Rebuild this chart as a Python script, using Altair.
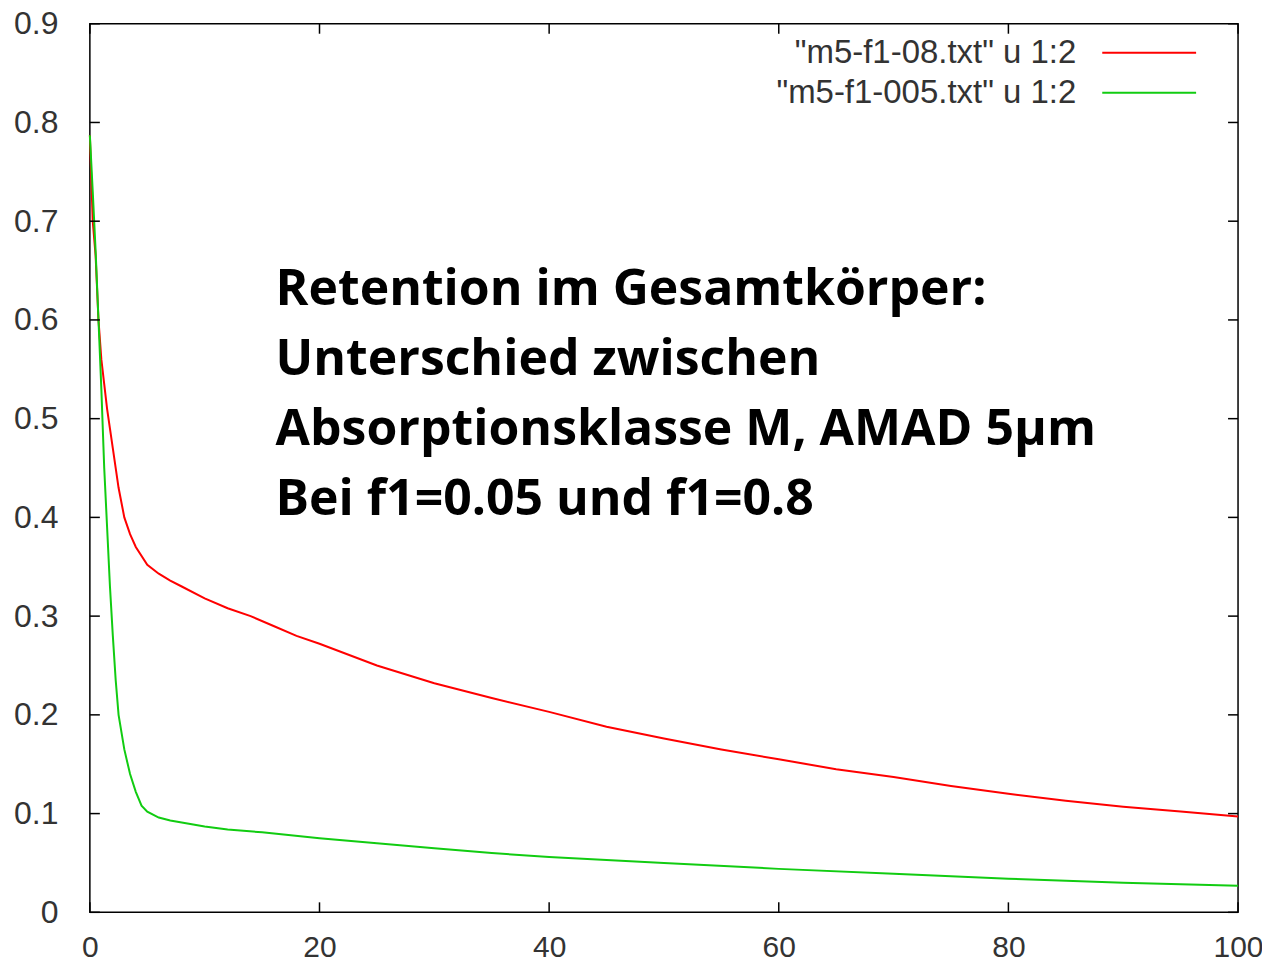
import altair as alt
import pandas as pd

# ---- data ----
series_names = ['"m5-f1-08.txt" u 1:2', '"m5-f1-005.txt" u 1:2']

red_x = [0, 0.25, 0.5, 0.75, 1.0, 1.25, 1.5, 1.75, 2.0, 2.25, 2.5, 3, 3.5, 4, 5, 6, 7, 8, 10, 12,
         14, 16, 18, 20, 25, 30, 35, 40, 45, 50, 55, 60, 65, 70, 75, 80, 85, 90, 95, 100]
red_y = [0.787, 0.70, 0.665, 0.60, 0.56, 0.535, 0.51, 0.49, 0.47, 0.45, 0.43, 0.40, 0.383, 0.37,
         0.352, 0.343, 0.336, 0.330, 0.318, 0.308, 0.300, 0.290, 0.280, 0.272, 0.250, 0.232,
         0.217, 0.203, 0.188, 0.176, 0.165, 0.155, 0.145, 0.137, 0.128, 0.120, 0.113, 0.107,
         0.102, 0.097]

green_x = [0, 0.25, 0.5, 0.75, 1.0, 1.25, 1.5, 1.75, 2.0, 2.25, 2.5, 3, 3.5, 4, 4.5, 5, 6, 7, 8,
           10, 12, 15, 20, 25, 30, 35, 40, 45, 50, 60, 70, 80, 90, 100]
green_y = [0.787, 0.73, 0.67, 0.60, 0.53, 0.45, 0.39, 0.33, 0.28, 0.235, 0.20, 0.165, 0.14,
           0.122, 0.108, 0.102, 0.096, 0.093, 0.091, 0.087, 0.084, 0.081, 0.075, 0.070, 0.065,
           0.060, 0.056, 0.053, 0.050, 0.044, 0.039, 0.034, 0.030, 0.027]

x_ticks = [0, 20, 40, 60, 80, 100]
y_ticks = [0, 0.1, 0.2, 0.3, 0.4, 0.5, 0.6, 0.7, 0.8, 0.9]

annotation = "Retention im Gesamtkörper:\nUnterschied zwischen\nAbsorptionsklasse M, AMAD 5µm\nBei f1=0.05 und f1=0.8"

colors = ["#ff0000", "#11cc11"]

# ---- tables ----
df = pd.concat([
    pd.DataFrame({"x": red_x, "y": red_y, "series": series_names[0]}),
    pd.DataFrame({"x": green_x, "y": green_y, "series": series_names[1]}),
])
xt = pd.DataFrame({"v": x_ticks})
yt = pd.DataFrame({"v": y_ticks})

W, H = 1150, 890
TICK = 10
LABEL_FONT = "Liberation Sans"
LABEL_COLOR = "#333333"

xscale = alt.Scale(domain=[0, 100], nice=False, zero=True)
yscale = alt.Scale(domain=[0, 0.9], nice=False, zero=True)
cscale = alt.Scale(domain=series_names, range=colors)

lines = alt.Chart(df).mark_line(strokeWidth=2).encode(
    x=alt.X("x:Q", scale=xscale,
            axis=alt.Axis(values=x_ticks, title=None, ticks=False, domain=False, grid=False,
                          labelPadding=35, labelFontSize=30, labelFont=LABEL_FONT,
                          labelColor=LABEL_COLOR, labelBaseline="middle", labelFlush=False)),
    y=alt.Y("y:Q", scale=yscale,
            axis=alt.Axis(values=y_ticks, title=None, ticks=False, domain=False, grid=False,
                          labelPadding=32, labelFontSize=32, labelFont=LABEL_FONT,
                          labelColor=LABEL_COLOR, labelFlush=False,
                          labelExpr="datum.value == 0 ? '0' : format(datum.value, '.1f')")),
    color=alt.Color("series:N", scale=cscale, legend=None),
    detail="series:N",
)

# inward mirrored ticks (gnuplot style)
ytick_left = alt.Chart(yt).mark_rule(color="black", strokeWidth=1.5).encode(
    y=alt.Y("v:Q", scale=yscale), x=alt.value(0), x2=alt.value(TICK))
ytick_right = alt.Chart(yt).mark_rule(color="black", strokeWidth=1.5).encode(
    y=alt.Y("v:Q", scale=yscale), x=alt.value(W - TICK), x2=alt.value(W))
xtick_bottom = alt.Chart(xt).mark_rule(color="black", strokeWidth=1.5).encode(
    x=alt.X("v:Q", scale=xscale), y=alt.value(H - TICK), y2=alt.value(H))
xtick_top = alt.Chart(xt).mark_rule(color="black", strokeWidth=1.5).encode(
    x=alt.X("v:Q", scale=xscale), y=alt.value(0), y2=alt.value(TICK))

# legend (gnuplot style: label then sample line)
legend_layers = []
for i, name in enumerate(series_names):
    ypos = 29 + 40 * i
    one = pd.DataFrame({"series": [name]})
    legend_layers.append(
        alt.Chart(one).mark_text(align="right", baseline="middle", fontSize=33,
                                 font=LABEL_FONT, color=LABEL_COLOR).encode(
            text="series:N", x=alt.value(988), y=alt.value(ypos))
    )
    legend_layers.append(
        alt.Chart(one).mark_rule(strokeWidth=2).encode(
            x=alt.value(1014), x2=alt.value(1108), y=alt.value(ypos),
            color=alt.Color("series:N", scale=cscale, legend=None))
    )

note = alt.Chart(pd.DataFrame({"t": [annotation]})).mark_text(
    align="left", baseline="alphabetic", fontSize=50, font="Open Sans", fontWeight="bold",
    color="black", lineBreak="\n", lineHeight=70,
).encode(text="t:N", x=alt.value(186), y=alt.value(282))

chart = alt.layer(
    lines, ytick_left, ytick_right, xtick_bottom, xtick_top, *legend_layers, note
).properties(
    width=W, height=H,
    autosize=alt.AutoSizeParams(type="none"),
    padding={"left": 82, "top": 15, "right": 24, "bottom": 50},
    background="white",
).configure_view(stroke="black", strokeWidth=1.5)

chart.save("out.html", embed_options={"renderer": "svg", "actions": False})
